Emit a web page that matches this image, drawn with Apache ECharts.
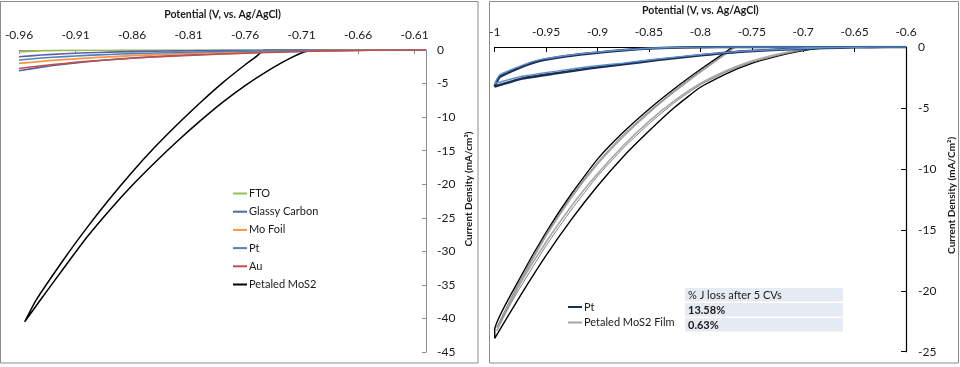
<!DOCTYPE html>
<html>
<head>
<meta charset="utf-8">
<script src="https://cdn.jsdelivr.net/npm/echarts@6/dist/echarts.min.js"></script>
<style>
html,body{margin:0;padding:0;background:#fff;}
#c{width:960px;height:367px;}
</style>
</head>
<body>
<div id="c"></div>
<script>
// ---------- LEFT PANEL DATA ----------
const leftPotential = [-0.96, -0.94, -0.92, -0.90, -0.88, -0.86, -0.84, -0.82, -0.80, -0.78, -0.76, -0.74, -0.72, -0.70, -0.65, -0.60];
const ftoJ        = [-0.3, -0.1, -0.06, -0.04, -0.03, -0.02, -0.01, -0.01, 0, 0, 0, 0, 0, 0, 0, 0];
const glassyFwdJ  = [-3.1, -2.55, -2.1, -1.75, -1.45, -1.2, -1.0, -0.82, -0.68, -0.55, -0.43, -0.33, -0.24, -0.16, -0.04, 0];
const glassyRevJ  = [-1.0, -0.75, -0.55, -0.42, -0.32, -0.24, -0.18, -0.13, -0.09, -0.06, -0.04, -0.02, -0.01, 0, 0, 0];
const moFoilJ     = [-2.0, -1.68, -1.42, -1.2, -1.01, -0.85, -0.71, -0.59, -0.48, -0.38, -0.3, -0.22, -0.15, -0.1, -0.02, 0];
const ptLeftJ     = [-1.5, -1.2, -0.98, -0.8, -0.66, -0.54, -0.44, -0.36, -0.29, -0.22, -0.17, -0.12, -0.08, -0.05, -0.01, 0];
const auJ         = [-2.75, -2.35, -2.0, -1.7, -1.45, -1.22, -1.03, -0.87, -0.74, -0.6, -0.47, -0.36, -0.26, -0.17, -0.04, 0];

const mosLeftFwdV = [-0.60, -0.65, -0.69, -0.7044, -0.72, -0.74, -0.76, -0.78, -0.80, -0.82, -0.84, -0.86, -0.88, -0.90, -0.92, -0.94, -0.955];
const mosLeftFwdJ = [0, 0, 0, -0.1, -1.2, -3.1, -5.3, -7.8, -10.6, -13.6, -16.8, -20.2, -23.9, -27.9, -32.4, -37.0, -40.5];
const mosLeftRevV = [-0.945, -0.92, -0.90, -0.88, -0.86, -0.84, -0.82, -0.80, -0.78, -0.76, -0.75, -0.7427, -0.72, -0.65, -0.60];
const mosLeftRevJ = [-37.3, -31.1, -26.5, -22.2, -18.2, -14.5, -11.1, -7.9, -4.9, -2.2, -0.95, 0, 0, 0, 0];

const leftXTicks = {min: -0.96, max: -0.60, interval: 0.05};
const leftYTicks = {min: -45, max: 0, interval: 5};

// ---------- RIGHT PANEL DATA ----------
const ptLowV  = [-0.60, -0.619, -0.648, -0.68, -0.713, -0.757, -0.797, -0.842, -0.875, -0.907, -0.94, -0.972, -1.0];
const ptAlowJ = [0, 0, -0.02, -0.08, -0.19, -0.36, -0.66, -1.07, -1.42, -1.75, -2.16, -2.57, -3.25];
const ptBlowJ = [0, 0, -0.02, -0.07, -0.17, -0.33, -0.6, -0.98, -1.32, -1.6, -1.98, -2.38, -3.0];
const ptUpV   = [-1.0, -0.998, -0.995, -0.985, -0.97, -0.956, -0.93, -0.907, -0.88, -0.849, -0.82, -0.78, -0.70, -0.60];
const ptAupJ  = [-3.25, -2.85, -2.44, -2.03, -1.5, -1.12, -0.75, -0.52, -0.3, -0.11, -0.04, 0, 0, 0];
const ptBupJ  = [-3.0, -2.65, -2.28, -1.9, -1.4, -1.04, -0.7, -0.47, -0.27, -0.1, -0.03, 0, 0, 0];

const mosBlackRV = [-0.60, -0.65, -0.675, -0.70, -0.725, -0.75, -0.775, -0.80, -0.825, -0.85, -0.875, -0.90, -0.925, -0.95, -0.975, -1.0];
const mosBlackRJ = [0, 0, 0, -0.3, -0.75, -1.35, -2.2, -3.3, -4.95, -6.9, -9.0, -11.4, -14.1, -17.1, -20.4, -23.9];
const mosBlackLV = [-1.0, -0.975, -0.95, -0.925, -0.90, -0.875, -0.85, -0.825, -0.80, -0.775, -0.768, -0.70, -0.60];
const mosBlackLJ = [-23.2, -18.9, -15.2, -12.0, -9.2, -7.0, -5.1, -3.4, -1.85, -0.4, 0, 0, 0];

const mosGrayRV  = [-0.60, -0.65, -0.675, -0.70, -0.725, -0.75, -0.775, -0.80, -0.825, -0.85, -0.875, -0.90, -0.925, -0.95, -0.975, -0.998];
const mosGrayARJ = [0, 0, 0, -0.2, -0.6, -1.15, -1.95, -3.0, -4.4, -6.1, -8.1, -10.4, -13.0, -16.0, -19.4, -23.3];
const mosGrayBRJ = [0, 0, 0, -0.25, -0.7, -1.25, -2.05, -3.1, -4.55, -6.3, -8.3, -10.6, -13.3, -16.3, -19.7, -23.0];
const mosGrayLV  = [-0.998, -0.975, -0.95, -0.925, -0.90, -0.875, -0.85, -0.825, -0.80, -0.775, -0.765, -0.70, -0.60];
const mosGrayALJ = [-23.3, -19.2, -15.5, -12.3, -9.6, -7.35, -5.4, -3.65, -2.05, -0.55, 0, 0, 0];
const mosGrayBLJ = [-23.0, -19.05, -15.35, -12.15, -9.45, -7.2, -5.3, -3.55, -1.95, -0.5, 0, 0, 0];

const rightXTicks = {min: -1, max: -0.6, interval: 0.05};
const rightYTicks = {min: -25, max: 0, interval: 5};

const tableRows = ['% J loss after 5 CVs', '13.58%', '0.63%'];

// ---------- helpers ----------
function zip(xs, ys){ return xs.map((x,i)=>[x, ys[i]]); }
function loop(x1, y1, x2, y2){ return zip(x1, y1).concat(zip(x2, y2)); }

const FONT = 'Lato, "Open Sans", sans-serif';
const chart = echarts.init(document.getElementById('c'));

function lineSeries(name, data, color, width, xi, smooth){
  return {type:'line', name, data, xAxisIndex:xi, yAxisIndex:xi, symbol:'none', showSymbol:false,
    smooth: smooth === undefined ? 0.15 : smooth, lineStyle:{color, width}, itemStyle:{color}, silent:true, animation:false, z:2};
}

const series = [
  lineSeries('Petaled MoS2', loop(mosLeftFwdV, mosLeftFwdJ, mosLeftRevV, mosLeftRevJ), '#000000', 1.5, 0),
  lineSeries('FTO', zip(leftPotential, ftoJ), '#9BBB59', 1.6, 0),
  lineSeries('Glassy Carbon', zip(leftPotential, glassyFwdJ).concat(zip(leftPotential, glassyRevJ).reverse()), '#5A5FA8', 1.6, 0),
  lineSeries('Mo Foil', zip(leftPotential, moFoilJ), '#F79646', 1.8, 0),
  lineSeries('Pt', zip(leftPotential, ptLeftJ), '#4F81BD', 1.6, 0),
  lineSeries('Au', zip(leftPotential, auJ), '#C0504D', 1.6, 0),

  lineSeries('Petaled MoS2 cycle 1', loop(mosBlackRV, mosBlackRJ, mosBlackLV, mosBlackLJ), '#000000', 1.4, 1),
  lineSeries('Petaled MoS2 Film', loop(mosGrayRV, mosGrayARJ, mosGrayLV, mosGrayALJ), '#A6A6A6', 1.6, 1),
  lineSeries('Petaled MoS2 cycle 5', loop(mosGrayRV, mosGrayBRJ, mosGrayLV, mosGrayBLJ), '#808080', 1.0, 1),
  lineSeries('Pt ', loop(ptLowV, ptAlowJ, ptUpV, ptAupJ), '#1F2F4F', 2.6, 1),
  lineSeries('Pt cycle 5', loop(ptLowV, ptBlowJ, ptUpV, ptBupJ), '#5B8FD0', 1.4, 1)
];

const axisLabelStyle = {color:'#1a1a1a', fontFamily:FONT, fontSize:12};
const axisNameStyle = {color:'#1a1a1a', fontFamily:FONT, fontSize:10.5, fontWeight:'bold'};
const legendText = {fontFamily:FONT, fontSize:11, color:'#1a1a1a', padding:[0,0,0,-3]};

chart.setOption({
  animation:false,
  backgroundColor:'#ffffff',
  grid:[
    {left:19, top:50, width:407, height:302},
    {left:494.7, top:47, width:411.3, height:304.7}
  ],
  xAxis:[
    {type:'value', gridIndex:0, position:'top', min:leftXTicks.min, max:leftXTicks.max, interval:leftXTicks.interval,
     name:'Potential (V, vs. Ag/AgCl)', nameLocation:'middle', nameGap:30, nameTextStyle:axisNameStyle,
     axisLine:{show:true, onZero:false, lineStyle:{color:'#8c8c8c', width:1}},
     axisTick:{show:true, inside:true, length:4, lineStyle:{color:'#8c8c8c'}},
     axisLabel:Object.assign({margin:9, showMaxLabel:false}, axisLabelStyle),
     splitLine:{show:false}},
    {type:'value', gridIndex:1, position:'top', min:rightXTicks.min, max:rightXTicks.max, interval:rightXTicks.interval,
     name:'Potential (V, vs. Ag/AgCl)', nameLocation:'middle', nameGap:31, nameTextStyle:axisNameStyle,
     axisLine:{show:true, onZero:false, lineStyle:{color:'#000', width:1}},
     axisTick:{show:true, inside:true, length:5, lineStyle:{color:'#000'}},
     axisLabel:Object.assign({margin:9}, axisLabelStyle),
     splitLine:{show:false}}
  ],
  yAxis:[
    {type:'value', gridIndex:0, position:'right', min:leftYTicks.min, max:leftYTicks.max, interval:leftYTicks.interval,
     name:'Current Density (mA/cm²)', nameLocation:'middle', nameGap:38, nameRotate:90,
     nameTextStyle:{color:'#1a1a1a', fontFamily:FONT, fontSize:10, fontWeight:'bold', padding:[0,0,0,24]},
     axisLine:{show:true, onZero:false, lineStyle:{color:'#8c8c8c', width:1}},
     axisTick:{show:true, inside:true, length:4, lineStyle:{color:'#8c8c8c'}},
     axisLabel:Object.assign({margin:11}, axisLabelStyle),
     splitLine:{show:false}},
    {type:'value', gridIndex:1, position:'right', min:rightYTicks.min, max:rightYTicks.max, interval:rightYTicks.interval,
     name:'Current Density (mA/Cm²)', nameLocation:'middle', nameGap:41, nameRotate:90,
     nameTextStyle:{color:'#1a1a1a', fontFamily:FONT, fontSize:10, fontWeight:'bold', padding:[0,0,0,8]},
     axisLine:{show:true, onZero:false, lineStyle:{color:'#000', width:1.2}},
     axisTick:{show:true, inside:true, length:5, lineStyle:{color:'#000'}},
     axisLabel:Object.assign({margin:12}, axisLabelStyle),
     splitLine:{show:false}}
  ],
  legend:[
    {data:['FTO','Glassy Carbon','Mo Foil','Pt','Au','Petaled MoS2'], orient:'vertical', left:233, top:188, padding:0,
     icon:'rect', itemWidth:14, itemHeight:2, itemGap:7.2, selectedMode:false, textStyle:legendText},
    {data:['Pt ','Petaled MoS2 Film'], orient:'vertical', left:568, top:301.5, padding:0,
     icon:'rect', itemWidth:14, itemHeight:2, itemGap:4.5, selectedMode:false, textStyle:legendText}
  ],
  graphic:[
    {type:'rect', shape:{x:0.5, y:1.5, width:477.5, height:361.5}, style:{fill:'none', stroke:'#8c8c8c', lineWidth:1}, silent:true},
    {type:'rect', shape:{x:489.5, y:1.5, width:469, height:361.5}, style:{fill:'none', stroke:'#8c8c8c', lineWidth:1}, silent:true},
    {type:'rect', shape:{x:685, y:288, width:158, height:13.5}, style:{fill:'#E6EAF2'}, silent:true, z:10},
    {type:'rect', shape:{x:685, y:303, width:158, height:13.5}, style:{fill:'#E6EAF2'}, silent:true, z:10},
    {type:'rect', shape:{x:685, y:318, width:158, height:13.5}, style:{fill:'#E6EAF2'}, silent:true, z:10},
    {type:'text', x:688, y:295, style:{text:tableRows[0], fontFamily:FONT, fontSize:11, fill:'#1a1a1a', verticalAlign:'middle'}, silent:true, z:11},
    {type:'text', x:688, y:310, style:{text:tableRows[1], fontFamily:FONT, fontSize:11, fontWeight:'bold', fill:'#1a1a1a', verticalAlign:'middle'}, silent:true, z:11},
    {type:'text', x:688, y:325, style:{text:tableRows[2], fontFamily:FONT, fontSize:11, fontWeight:'bold', fill:'#1a1a1a', verticalAlign:'middle'}, silent:true, z:11}
  ],
  series
});
</script>
</body>
</html>
